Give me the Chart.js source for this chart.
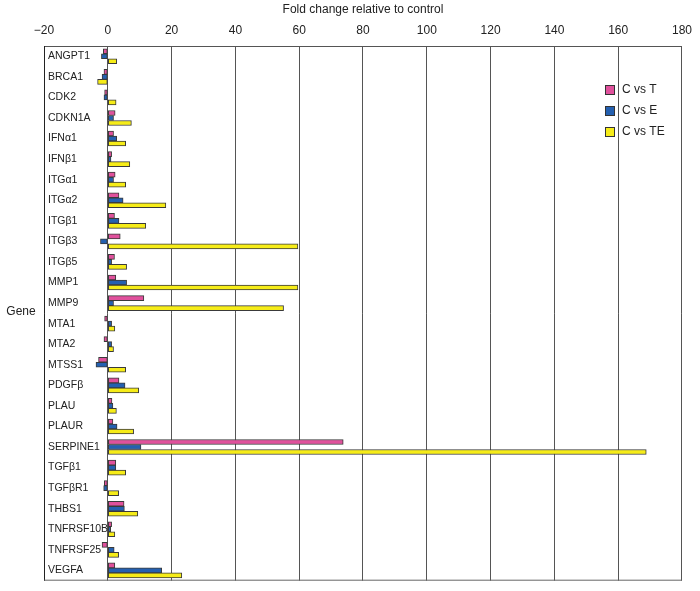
<!DOCTYPE html>
<html>
<head>
<meta charset="utf-8">
<script src="https://cdn.jsdelivr.net/npm/chart.js@4/dist/chart.umd.min.js"></script>
<style>
    html, body { margin: 0; padding: 0; background: #fff; }
    #wrap { width: 700px; height: 591px; }
</style>
</head>
<body>
<div id="wrap"><canvas id="foldChart"></canvas></div>
<script>
const genes = ["ANGPT1", "BRCA1", "CDK2", "CDKN1A", "IFN\u03b11", "IFN\u03b21", "ITG\u03b11", "ITG\u03b12",
    "ITG\u03b21", "ITG\u03b23", "ITG\u03b25", "MMP1", "MMP9", "MTA1", "MTA2", "MTSS1", "PDGF\u03b2",
    "PLAU", "PLAUR", "SERPINE1", "TGF\u03b21", "TGF\u03b2R1", "THBS1", "TNFRSF10B", "TNFRSF25", "VEGFA"];
const cVsT = [-1.4, -1.2, -1.0, 2.3, 1.8, 1.2, 2.3, 3.5, 2.1, 3.9, 2.1, 2.5, 11.3, -1.0, -1.2, -2.9,
    3.5, 1.3, 1.6, 73.8, 2.5, -1.1, 5.1, 1.2, -1.8, 2.2];
const cVsE = [-2.0, -1.8, -1.2, 1.8, 2.8, 1.0, 1.8, 4.8, 3.5, -2.3, 1.2, 5.9, 1.8, 1.2, 1.2, -3.7,
    5.4, 1.6, 2.9, 10.4, 2.5, -1.3, 5.2, 0.9, 2.0, 16.9];
const cVsTE = [2.8, -3.2, 2.6, 7.4, 5.6, 6.9, 5.6, 18.2, 11.9, 59.6, 5.9, 59.6, 55.1, 2.2, 1.8, 5.6,
    9.7, 2.7, 8.1, 168.8, 5.6, 3.4, 9.4, 2.2, 3.4, 23.2];
const seriesNames = ["C vs T", "C vs E", "C vs TE"];
const xTicks = [-20, 0, 20, 40, 60, 80, 100, 120, 140, 160, 180];

const colors = ['#e0519c', '#2460b0', '#f6ec18'];
const fontFamily = "'Liberation Sans', Arial, sans-serif";

// legend and "Gene" label drawn by hand, plus the bottom frame line
const extras = {
    id: 'extras',
    afterDraw(chart) {
        const ctx = chart.ctx;
        const area = chart.chartArea;
        ctx.save();
        ctx.strokeStyle = '#666';
        ctx.lineWidth = 1;
        ctx.beginPath();
        ctx.moveTo(area.left, area.bottom - 0.5);
        ctx.lineTo(area.right, area.bottom - 0.5);
        ctx.stroke();

        ctx.fillStyle = '#222';
        ctx.font = '12px ' + fontFamily;
        ctx.textAlign = 'center';
        ctx.textBaseline = 'middle';
        ctx.fillText('Gene', 21, 312);

        ctx.textAlign = 'left';
        chart.data.datasets.forEach(function (ds, i) {
            const y = 90 + i * 21;
            ctx.fillStyle = ds.backgroundColor;
            ctx.fillRect(605.5, y - 4.5, 9, 9);
            ctx.strokeStyle = '#333';
            ctx.strokeRect(605.5, y - 4.5, 9, 9);
            ctx.fillStyle = '#222';
            ctx.fillText(ds.label, 622, y);
        });
        ctx.restore();
    }
};

new Chart(document.getElementById('foldChart'), {
    type: 'bar',
    data: {
        labels: genes,
        datasets: [cVsT, cVsE, cVsTE].map(function (vals, i) {
            return {
                label: seriesNames[i],
                data: vals,
                backgroundColor: colors[i],
                borderColor: '#3a3a3a',
                borderWidth: 1,
                borderSkipped: false,
                barThickness: 5
            };
        })
    },
    options: {
        indexAxis: 'y',
        responsive: true,
        maintainAspectRatio: false,
        animation: false,
        layout: {
            padding: { top: 0, right: 17, bottom: 8, left: 0 }
        },
        plugins: {
            legend: { display: false },
            tooltip: { enabled: false }
        },
        scales: {
            x: {
                position: 'top',
                min: -20,
                max: 180,
                afterBuildTicks: function (scale) {
                    scale.ticks = xTicks.map(v => ({ value: v }));
                },
                afterFit: function (scale) {
                    scale.height = 46;
                },
                ticks: {
                    color: '#222',
                    padding: 8,
                    font: { size: 12, family: fontFamily },
                    callback: v => String(v).replace('-', '\u2212')
                },
                grid: {
                    color: '#555',
                    drawTicks: false
                },
                border: { display: true, color: '#555' },
                title: {
                    display: true,
                    text: 'Fold change relative to control',
                    color: '#222',
                    font: { size: 12, family: fontFamily },
                    padding: { top: 2, bottom: 0 }
                }
            },
            y: {
                afterFit: function (scale) {
                    scale.width = 44;
                },
                ticks: {
                    mirror: true,
                    padding: 4,
                    color: '#222',
                    font: { size: 10.5, family: fontFamily },
                    autoSkip: false
                },
                grid: { display: false },
                border: { display: true, color: '#222' }
            }
        }
    },
    plugins: [extras]
});
</script>
</body>
</html>
